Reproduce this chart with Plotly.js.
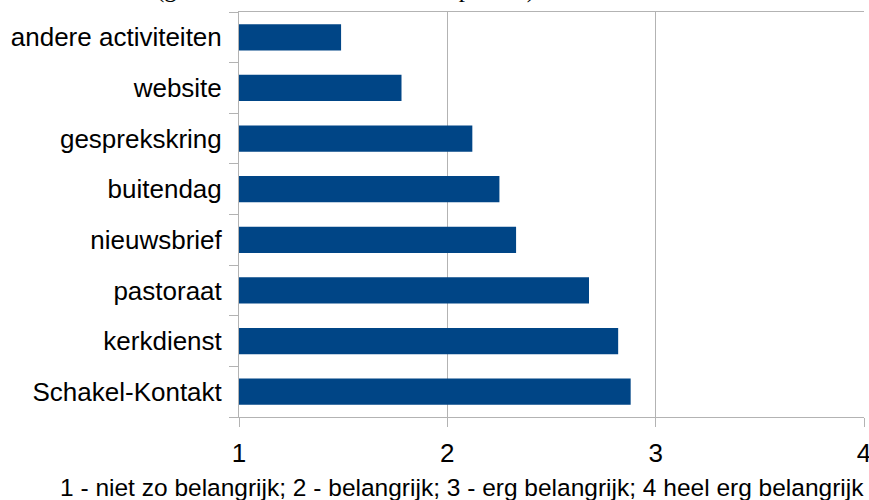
<!DOCTYPE html>
<html>
<head>
<meta charset="utf-8">
<script src="https://cdn.plot.ly/plotly-3.0.1.min.js"></script>
<style>html,body{margin:0;padding:0;background:#fff;}#chart{width:869px;height:500px;}</style>
</head>
<body>
<div id="chart"></div>
<script>
const categories = ["Schakel-Kontakt","kerkdienst","pastoraat","nieuwsbrief","buitendag","gesprekskring","website","andere activiteiten"];
const values = [2.88, 2.82, 2.68, 2.33, 2.25, 2.12, 1.78, 1.49];
const xTicks = [1, 2, 3, 4];
const titleText = "(gemiddelde score van 1 tot 4 punten)";
const xTitleText = "1 - niet zo belangrijk; 2 - belangrijk; 3 - erg belangrijk; 4 heel erg belangrijk";

const trace = {
  type: "bar",
  orientation: "h",
  y: categories,
  x: values,
  marker: {color: "#004586"},
  width: 0.52,
  hoverinfo: "x+y"
};

const layout = {
  width: 869, height: 500,
  margin: {l: 239, r: 5, t: 12, b: 83, pad: 0},
  paper_bgcolor: "#ffffff",
  plot_bgcolor: "#ffffff",
  showlegend: false,
  font: {family: "Liberation Sans, Arial, sans-serif", color: "#000000", size: 22},
  xaxis: {
    range: [1, 4],
    tickvals: xTicks,
    ticktext: xTicks.map(String),
    showgrid: true, gridcolor: "#b3b3b3", gridwidth: 1,
    showline: true, linecolor: "#b3b3b3", linewidth: 1, mirror: true,
    ticks: "outside", ticklen: 9, tickcolor: "#b3b3b3", tickwidth: 1,
    ticklabelstandoff: 4,
    ticklabeloverflow: "allow",
    tickfont: {size: 26, color: "#000000"},
    zeroline: false, fixedrange: true
  },
  yaxis: {
    type: "category",
    categoryorder: "array", categoryarray: categories,
    showgrid: false,
    showline: true, linecolor: "#b3b3b3", linewidth: 1,
    ticks: "outside", tickson: "boundaries", ticklen: 9, tickcolor: "#b3b3b3", tickwidth: 1,
    ticklabelstandoff: 11,
    ticklabeloverflow: "allow",
    tickfont: {size: 26, color: "#000000"},
    fixedrange: true
  },
  annotations: [
    {
      text: xTitleText, xref: "paper", yref: "paper",
      x: 0.357, y: -0.175, xanchor: "center", yanchor: "middle",
      showarrow: false, font: {size: 24.5, color: "#000000"}
    },
    {
      text: titleText, xref: "paper", yref: "paper",
      x: 0.17, y: 1.0198, xanchor: "center", yanchor: "bottom",
      borderpad: 0, showarrow: false,
      font: {family: "Liberation Serif, serif", size: 25, color: "#000000"}
    }
  ]
};

Plotly.newPlot("chart", [trace], layout, {displayModeBar: false, staticPlot: true});
</script>
</body>
</html>
